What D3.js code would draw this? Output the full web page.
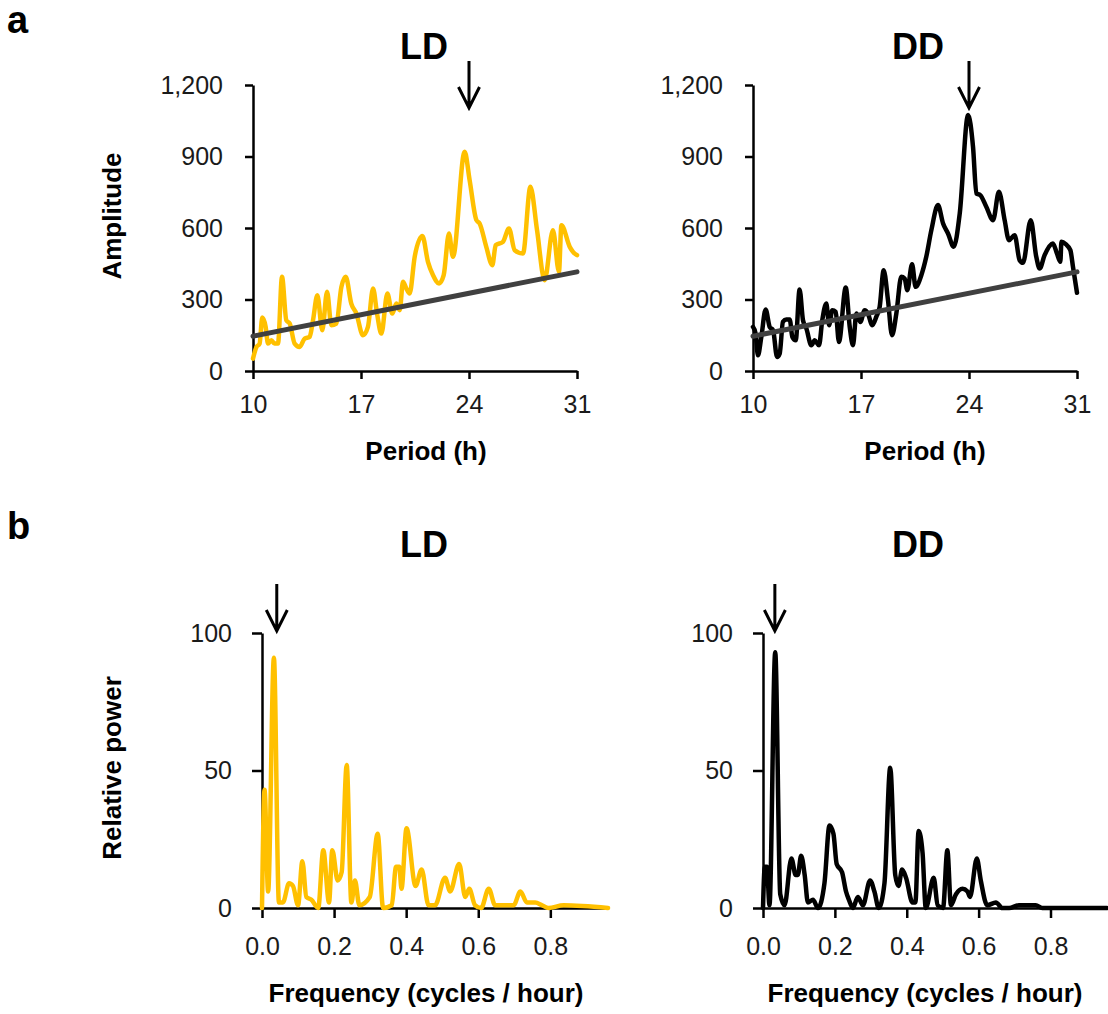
<!DOCTYPE html>
<html>
<head>
<meta charset="utf-8">
<script src="https://cdn.jsdelivr.net/npm/d3@7"></script>
<style>
  html, body { margin: 0; padding: 0; background: #fff; }
  svg { display: block; }
</style>
</head>
<body>
<div id="chart"></div>
<script>
// --- data ---
const periodTicks = [10, 17, 24, 31];
const amplitudeTicks = [0, 300, 600, 900, 1200];
const freqTicks = [0, 0.2, 0.4, 0.6, 0.8];
const powerTicks = [0, 50, 100];

// [period (h), amplitude]
const ldAmplitude = [
  [10.0, 52], [10.22, 100], [10.43, 115], [10.6, 224], [10.82, 185], [10.97, 115],
  [11.19, 129], [11.4, 115], [11.62, 115], [11.88, 395], [12.16, 213], [12.38, 199],
  [12.7, 115], [13.02, 101], [13.35, 136], [13.67, 143], [13.89, 213], [14.17, 318],
  [14.49, 171], [14.8, 332], [15.08, 192], [15.4, 199], [15.73, 353], [16.01, 395],
  [16.37, 283], [16.7, 241], [17.13, 150], [17.45, 185], [17.78, 346], [18.04, 241],
  [18.32, 157], [18.71, 325], [19.03, 241], [19.29, 283], [19.51, 255], [19.72, 374],
  [19.94, 346], [20.15, 325], [20.48, 479], [20.98, 566], [21.34, 458], [21.67, 402],
  [22.06, 367], [22.36, 402], [22.7, 577], [22.96, 479], [23.72, 920], [24.04, 801],
  [24.48, 633], [24.69, 619], [25.12, 521], [25.51, 444], [25.73, 528], [26.2, 542],
  [26.59, 598], [26.96, 507], [27.5, 493], [27.98, 773], [28.41, 591], [28.9, 381],
  [29.44, 591], [29.83, 416], [29.99, 612], [30.53, 521], [30.74, 500], [31.0, 486],
];
const ddAmplitude = [
  [10.0, 185], [10.17, 157], [10.32, 66], [10.54, 143], [10.82, 258], [11.08, 185],
  [11.3, 171], [11.56, 59], [11.73, 73], [11.94, 206], [12.16, 216], [12.38, 216],
  [12.55, 143], [12.77, 129], [13.02, 342], [13.24, 213], [13.46, 178], [13.78, 108],
  [14.0, 129], [14.28, 108], [14.49, 213], [14.75, 283], [14.93, 192], [15.14, 255],
  [15.36, 248], [15.57, 122], [16.01, 350], [16.27, 185], [16.48, 108], [16.7, 241],
  [16.96, 206], [17.24, 255], [17.45, 241], [17.73, 192], [17.99, 227], [18.21, 269],
  [18.47, 423], [18.75, 297], [19.01, 150], [19.29, 241], [19.61, 395], [19.83, 388],
  [20.0, 339], [20.31, 448], [20.54, 353], [20.91, 402], [21.23, 479], [21.56, 591],
  [21.99, 696], [22.32, 619], [22.64, 577], [23.01, 521], [23.4, 661], [23.94, 1074],
  [24.26, 941], [24.48, 745], [24.73, 738], [25.12, 689], [25.56, 633], [25.94, 752],
  [26.31, 633], [26.59, 549], [26.96, 570], [27.28, 465], [27.5, 454], [28.0, 633],
  [28.36, 479], [28.58, 430], [28.9, 486], [29.44, 535], [29.7, 493], [29.92, 458],
  [29.99, 542], [30.27, 532], [30.57, 507], [30.74, 437], [31.0, 328],
];
// linear trend lines (endpoints)
const ldTrend = [[10, 146], [31, 416]];
const ddTrend = [[10, 146], [31, 416]];

// [frequency (cycles/h), relative power]
const ldPower = [
  [0.0, 0], [0.007, 43], [0.017, 6], [0.033, 91], [0.047, 2], [0.058, 2], [0.075, 9],
  [0.086, 8], [0.1, 1], [0.112, 17], [0.123, 4], [0.137, 3], [0.156, 0], [0.17, 21],
  [0.186, 2], [0.195, 21], [0.21, 10], [0.221, 13], [0.235, 52], [0.248, 2], [0.258, 10],
  [0.27, 1], [0.299, 4], [0.321, 27], [0.336, 0], [0.36, 1], [0.372, 15], [0.381, 15],
  [0.387, 7], [0.401, 29], [0.426, 8], [0.443, 14], [0.462, 1], [0.48, 1], [0.508, 11],
  [0.522, 6], [0.547, 16], [0.564, 4], [0.575, 7], [0.591, 1], [0.608, 0], [0.629, 7],
  [0.647, 1], [0.68, 1], [0.698, 1], [0.717, 6], [0.735, 2], [0.758, 2], [0.777, 1],
  [0.795, 0], [0.837, 1], [0.96, 0],
];
const ddPower = [
  [0.0, 0], [0.005, 15], [0.011, 15], [0.018, 1], [0.034, 93], [0.048, 5], [0.06, 1],
  [0.079, 18], [0.091, 12], [0.097, 12], [0.106, 19], [0.116, 12], [0.125, 2], [0.139, 3],
  [0.153, 0], [0.171, 9], [0.185, 30], [0.196, 27], [0.205, 16], [0.22, 13], [0.231, 6],
  [0.239, 3], [0.25, 0], [0.264, 4], [0.278, 1], [0.298, 10], [0.31, 6], [0.322, 0],
  [0.338, 9], [0.354, 51], [0.368, 12], [0.377, 8], [0.387, 14], [0.398, 11], [0.416, 2],
  [0.424, 2], [0.433, 28], [0.444, 20], [0.453, 0], [0.475, 11], [0.486, 1], [0.501, 0],
  [0.513, 21], [0.523, 1], [0.537, 5], [0.555, 7], [0.569, 6], [0.576, 4], [0.595, 18],
  [0.606, 10], [0.624, 1], [0.648, 2], [0.666, 0], [0.685, 0], [0.712, 1], [0.74, 1],
  [0.759, 1], [0.777, 0], [0.842, 0], [0.957, 0],
];
// arrow positions (x value of the marked peak)
const arrowAmpLD = 24, arrowAmpDD = 24;
const arrowPowLD = 0.041, arrowPowDD = 0.033;

const FONT = "'Liberation Sans', Arial, sans-serif";
const GOLD = "#FFC000";

const svg = d3
  .select("#chart")
  .append("svg")
  .attr("width", 1108)
  .attr("height", 1014);

function drawPanel(p) {
  const x = d3.scaleLinear().domain(p.xDomain).range(p.xRange);
  const y = d3.scaleLinear().domain(p.yDomain).range(p.yRange);
  const g = svg.append("g");

  // y axis
  g.append("g")
    .attr("transform", `translate(${p.xRange[0]},0)`)
    .call(
      d3.axisLeft(y)
        .tickValues(p.yTicks)
        .tickFormat(p.yFormat)
        .tickSize(p.tick)
        .tickSizeOuter(0)
        .tickPadding(p.yPad),
    )
    .call(styleAxis);

  // x axis
  g.append("g")
    .attr("transform", `translate(0,${p.yRange[0]})`)
    .call(
      d3.axisBottom(x)
        .tickValues(p.xTicks)
        .tickFormat(p.xFormat)
        .tickSize(p.tick)
        .tickSizeOuter(0)
        .tickPadding(p.xPad),
    )
    .call(styleAxis);

  const line = d3
    .line()
    .x((d) => x(d[0]))
    .y((d) => y(d[1]))
    .curve(d3.curveMonotoneX);

  g.append("path")
    .attr("d", line(p.values))
    .attr("fill", "none")
    .attr("stroke", p.color)
    .attr("stroke-width", 4.5)
    .attr("stroke-linejoin", "round")
    .attr("stroke-linecap", "round");

  if (p.trend) {
    g.append("line")
      .attr("x1", x(p.trend[0][0]))
      .attr("y1", y(p.trend[0][1]))
      .attr("x2", x(p.trend[1][0]))
      .attr("y2", y(p.trend[1][1]))
      .attr("stroke", "#404040")
      .attr("stroke-width", 5)
      .attr("stroke-linecap", "round");
  }

  // arrow marking the peak
  const ax = x(p.arrowX);
  const tip = p.arrowTip;
  g.append("path")
    .attr("d", `M${ax},${tip - 47}V${tip}M${ax - 10.5},${tip - 21}L${ax},${tip}L${ax + 10.5},${tip - 21}`)
    .attr("fill", "none")
    .attr("stroke", "#000")
    .attr("stroke-width", 3);

  // panel title
  g.append("text")
    .attr("x", p.titleX)
    .attr("y", p.titleY)
    .attr("text-anchor", "middle")
    .attr("font-family", FONT)
    .attr("font-weight", "bold")
    .attr("font-size", 36)
    .text(p.title);

  // x axis title
  g.append("text")
    .attr("x", p.xLabelX)
    .attr("y", p.xLabelY)
    .attr("text-anchor", "middle")
    .attr("font-family", FONT)
    .attr("font-weight", "bold")
    .attr("font-size", 26)
    .text(p.xLabel);

  if (p.yLabel) {
    g.append("text")
      .attr("transform", `translate(121,${p.yLabelY}) rotate(-90)`)
      .attr("text-anchor", "middle")
      .attr("font-family", FONT)
      .attr("font-weight", "bold")
      .attr("font-size", 26)
      .text(p.yLabel);
  }
}

function styleAxis(sel) {
  sel.attr("font-family", FONT).attr("font-size", 25);
  sel.select(".domain").attr("stroke", "#000").attr("stroke-width", 2.5);
  sel.selectAll(".tick line").attr("stroke", "#000").attr("stroke-width", 2.5);
  sel.selectAll(".tick text").attr("fill", "#1a1a1a");
}

const fmtAmp = d3.format(",");
const fmtFreq = d3.format(".1f");

// a: amplitude vs period
const ampBase = {
  xDomain: [10, 31], yDomain: [0, 1200],
  yRange: [371, 85], xTicks: periodTicks, yTicks: amplitudeTicks,
  xFormat: d3.format("d"), yFormat: fmtAmp,
  tick: 8, yPad: 22, xPad: 16,
  xLabel: "Period (h)", xLabelY: 460, titleY: 59, arrowTip: 108,
};
drawPanel({
  ...ampBase, xRange: [253, 577], values: ldAmplitude, trend: ldTrend, color: GOLD,
  arrowX: arrowAmpLD, title: "LD", titleX: 424, xLabelX: 426,
  yLabel: "Amplitude", yLabelY: 216,
});
drawPanel({
  ...ampBase, xRange: [753, 1077], values: ddAmplitude, trend: ddTrend, color: "#000",
  arrowX: arrowAmpDD, title: "DD", titleX: 918, xLabelX: 925,
});

// b: relative power vs frequency
const powBase = {
  xDomain: [0, 0.96], yDomain: [0, 100],
  yRange: [908, 633], xTicks: freqTicks, yTicks: powerTicks,
  xFormat: fmtFreq, yFormat: d3.format("d"),
  tick: 10, yPad: 20, xPad: 19,
  xLabel: "Frequency (cycles / hour)", xLabelY: 1002, titleY: 557, arrowTip: 631,
};
drawPanel({
  ...powBase, xRange: [262, 608], values: ldPower, color: GOLD,
  arrowX: arrowPowLD, title: "LD", titleX: 424, xLabelX: 426,
  yLabel: "Relative power", yLabelY: 768,
});
drawPanel({
  ...powBase, xRange: [763, 1108], values: ddPower, color: "#000",
  arrowX: arrowPowDD, title: "DD", titleX: 918, xLabelX: 925,
});

// panel letters
svg.append("text").attr("x", 7).attr("y", 33)
  .attr("font-family", FONT).attr("font-weight", "bold").attr("font-size", 38).text("a");
svg.append("text").attr("x", 7).attr("y", 539)
  .attr("font-family", FONT).attr("font-weight", "bold").attr("font-size", 38).text("b");
</script>
</body>
</html>
